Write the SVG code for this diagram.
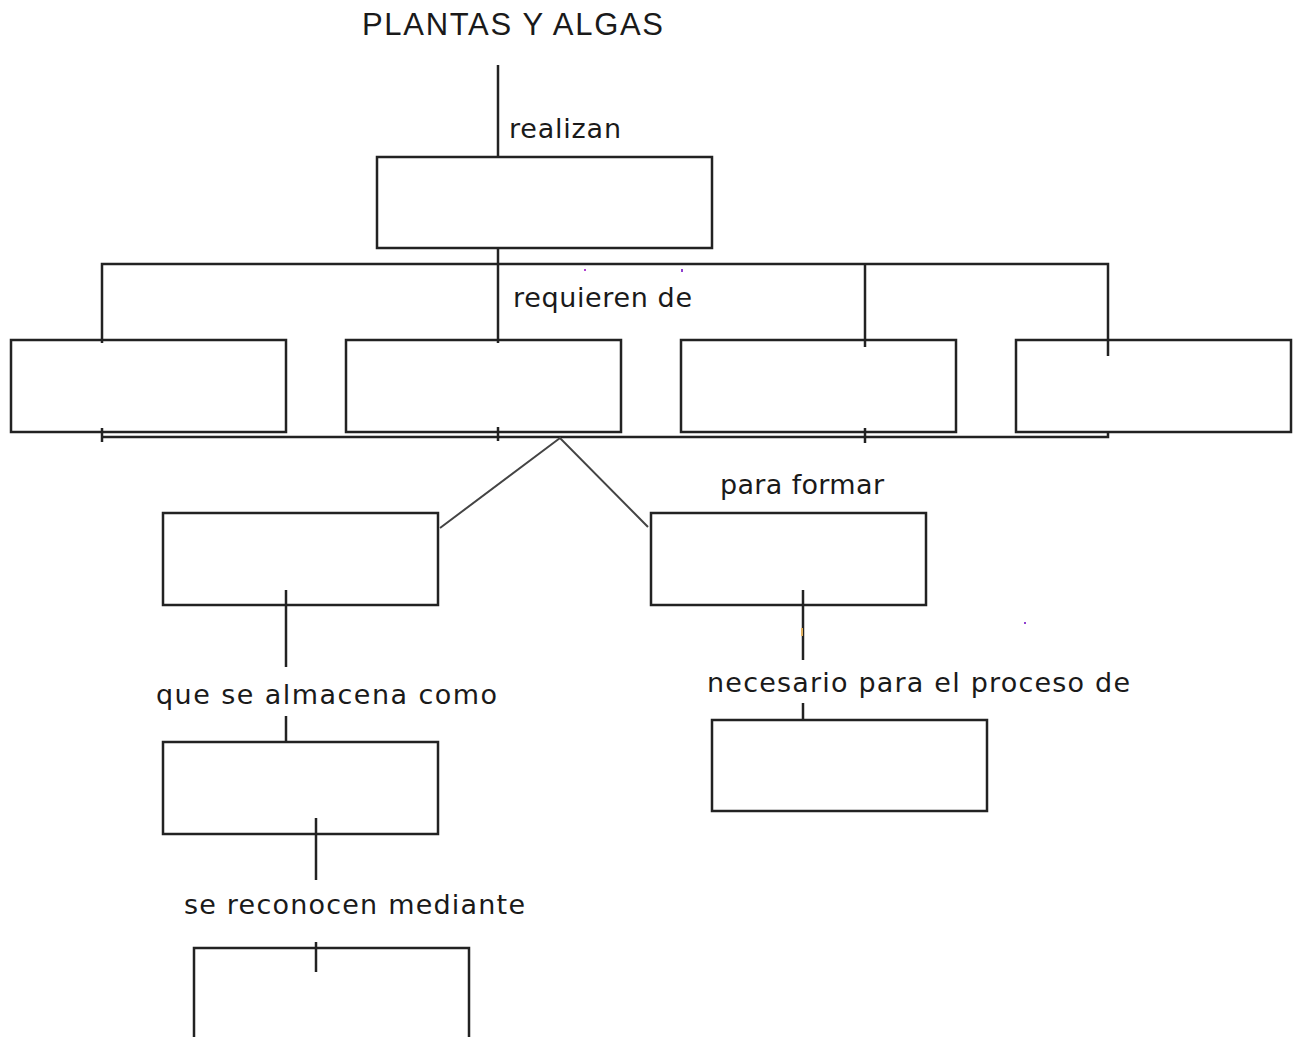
<svg xmlns="http://www.w3.org/2000/svg" width="1301" height="1037" viewBox="0 0 1301 1037">
<style>
.box{fill:#fff;stroke:#222;stroke-width:2.5}
.ln{stroke:#222;stroke-width:2.5;fill:none}
.dg{stroke:#444;stroke-width:2;fill:none}
.t{font-family:"DejaVu Sans","Liberation Sans",sans-serif;font-size:27px;fill:#1a1a1a}
.title{font-family:"Liberation Sans",Arial,sans-serif;font-size:31px;fill:#1a1a1a}
</style>
<rect width="1301" height="1037" fill="#fff"/>
<g id="title"><text class="title" x="362" y="35" textLength="301" lengthAdjust="spacing">PLANTAS Y ALGAS</text></g>
<g id="node-top"><rect class="box" x="377" y="157" width="335" height="91"/></g>
<g id="node-r1"><rect class="box" x="11" y="340" width="275" height="92"/></g>
<g id="node-r2"><rect class="box" x="346" y="340" width="275" height="92"/></g>
<g id="node-r3"><rect class="box" x="681" y="340" width="275" height="92"/></g>
<g id="node-r4"><rect class="box" x="1016" y="340" width="275" height="92"/></g>
<g id="node-left1"><rect class="box" x="163" y="513" width="275" height="92"/></g>
<g id="node-right1"><rect class="box" x="651" y="513" width="275" height="92"/></g>
<g id="node-left2"><rect class="box" x="163" y="742" width="275" height="92"/></g>
<g id="node-right2"><rect class="box" x="712" y="720" width="275" height="91"/></g>
<g id="node-left3"><rect class="box" x="194" y="948" width="275" height="120"/></g>
<g id="connectors">
<line class="ln" x1="498" y1="65" x2="498" y2="157"/>
<line class="ln" x1="498" y1="248" x2="498" y2="343"/>
<polyline class="ln" points="102,343 102,264 1108,264 1108,356"/>
<line class="ln" x1="865" y1="264" x2="865" y2="347"/>
<polyline class="ln" points="102,437 1108,437 1108,432"/>
<line class="ln" x1="102" y1="428" x2="102" y2="442"/>
<line class="ln" x1="498" y1="427" x2="498" y2="441"/>
<line class="ln" x1="865" y1="428" x2="865" y2="443"/>
<polyline class="dg" points="440,528 560,438 648,527"/>
<line class="ln" x1="286" y1="590" x2="286" y2="667"/>
<line class="ln" x1="286" y1="716" x2="286" y2="742"/>
<line class="ln" x1="316" y1="818" x2="316" y2="880"/>
<line class="ln" x1="316" y1="942" x2="316" y2="972"/>
<line class="ln" x1="803" y1="590" x2="803" y2="660"/>
<line class="ln" x1="803" y1="703" x2="803" y2="720"/>
</g>
<g id="labels">
<text class="t" x="509" y="138" textLength="112" lengthAdjust="spacing">realizan</text>
<text class="t" x="513" y="307" textLength="179" lengthAdjust="spacing">requieren de</text>
<text class="t" x="720" y="494" textLength="164" lengthAdjust="spacing">para formar</text>
<text class="t" x="156" y="704" textLength="341" lengthAdjust="spacing">que se almacena como</text>
<text class="t" x="707" y="692" textLength="423" lengthAdjust="spacing">necesario para el proceso de</text>
<text class="t" x="184" y="914" textLength="341" lengthAdjust="spacing">se reconocen mediante</text>
</g>
<g id="specks">
<rect x="584" y="269" width="2" height="2" fill="#b040d0"/>
<rect x="681" y="269" width="2" height="3" fill="#9040d0"/>
<rect x="801" y="628" width="2" height="8" fill="#e0b060"/>
<rect x="1024" y="622" width="2" height="2" fill="#9040d0"/>
</g>
</svg>
